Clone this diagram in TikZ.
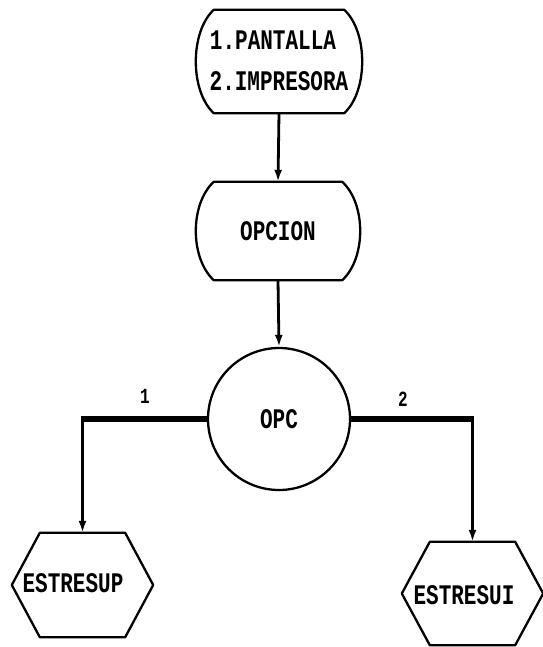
\documentclass[tikz,border=0pt]{standalone}
\usepackage{fontspec}
\usepackage{graphicx}
\usetikzlibrary{arrows.meta}
\newfontfamily\printfont{Liberation Mono}
\newcommand\ptxt[1]{\scalebox{1}[1.35]{\printfont\bfseries #1}}
\tikzset{
  outline/.style={line width=2.3pt, line join=round},
  boxnode/.style={inner sep=0pt, font=\fontsize{21}{21}\selectfont},
  flow/.style={line width=2.8pt, -{Latex[length=12pt,width=8pt]}},
  bar/.style={line width=5.5pt},
  branchlabel/.style={inner sep=0pt, font=\fontsize{16}{16}\selectfont},
}
% flat top and bottom, bulging sides
\newcommand\termshape[1]{%
  \draw[outline] (#1.north west) -- (#1.north east)
    .. controls +(24,22) and +(24,-22) .. (#1.south east)
    -- (#1.south west)
    .. controls +(-24,-22) and +(-24,22) .. (#1.north west) -- cycle;}
% flat top and bottom, pointed sides
\newcommand\hexshape[1]{%
  \draw[outline] (#1.north west) -- (#1.north east) -- ([xshift=28pt]#1.east)
    -- (#1.south east) -- (#1.south west) -- ([xshift=-28pt]#1.west) -- cycle;}
\begin{document}
\begin{tikzpicture}[x=1pt,y=-1pt]
  \useasboundingbox (0,0) rectangle (542,647);

  \node[boxnode, minimum width=130pt, minimum height=103pt] (menu) at (279,61.5) {};
  \node[boxnode] (l1) at (273,40) {\ptxt{1.PANTALLA}};
  \node[boxnode] (l2) at (279,81) {\ptxt{2.IMPRESORA}};
  \termshape{menu}

  \node[boxnode, minimum width=128pt, minimum height=98pt] (opcion) at (278,231) {\ptxt{OPCION}};
  \termshape{opcion}

  \node[boxnode, circle, draw, outline, minimum size=142pt] (opc) at (279,419) {\ptxt{OPC}};

  \node[boxnode, minimum width=85pt, minimum height=104pt] (sup) at (82.5,585) {};
  \node[boxnode] (supt) at (73,583) {\ptxt{ESTRESUP}};
  \hexshape{sup}

  \node[boxnode, minimum width=85pt, minimum height=103pt] (sui) at (472.5,593.5) {};
  \node[boxnode] (suit) at (464,595) {\ptxt{ESTRESUI}};
  \hexshape{sui}

  \draw[flow] (menu.south) -- (opcion.north);
  \draw[flow] (opcion.south) -- (opc.north);

  \coordinate (bl) at (opc.west -| sup.north);
  \coordinate (br) at (opc.east -| sui.north);
  \draw[bar] (opc.west) -- ([xshift=-1.4pt]bl);
  \draw[bar] (opc.east) -- ([xshift=1.4pt]br);
  \draw[flow] ([yshift=-2.5pt]bl) -- (sup.north);
  \draw[flow] ([yshift=-2.5pt]br) -- (sui.north);

  \node[branchlabel] (n1) at (145,396) {\ptxt{1}};
  \node[branchlabel] (n2) at (403,399) {\ptxt{2}};
\end{tikzpicture}
\end{document}
